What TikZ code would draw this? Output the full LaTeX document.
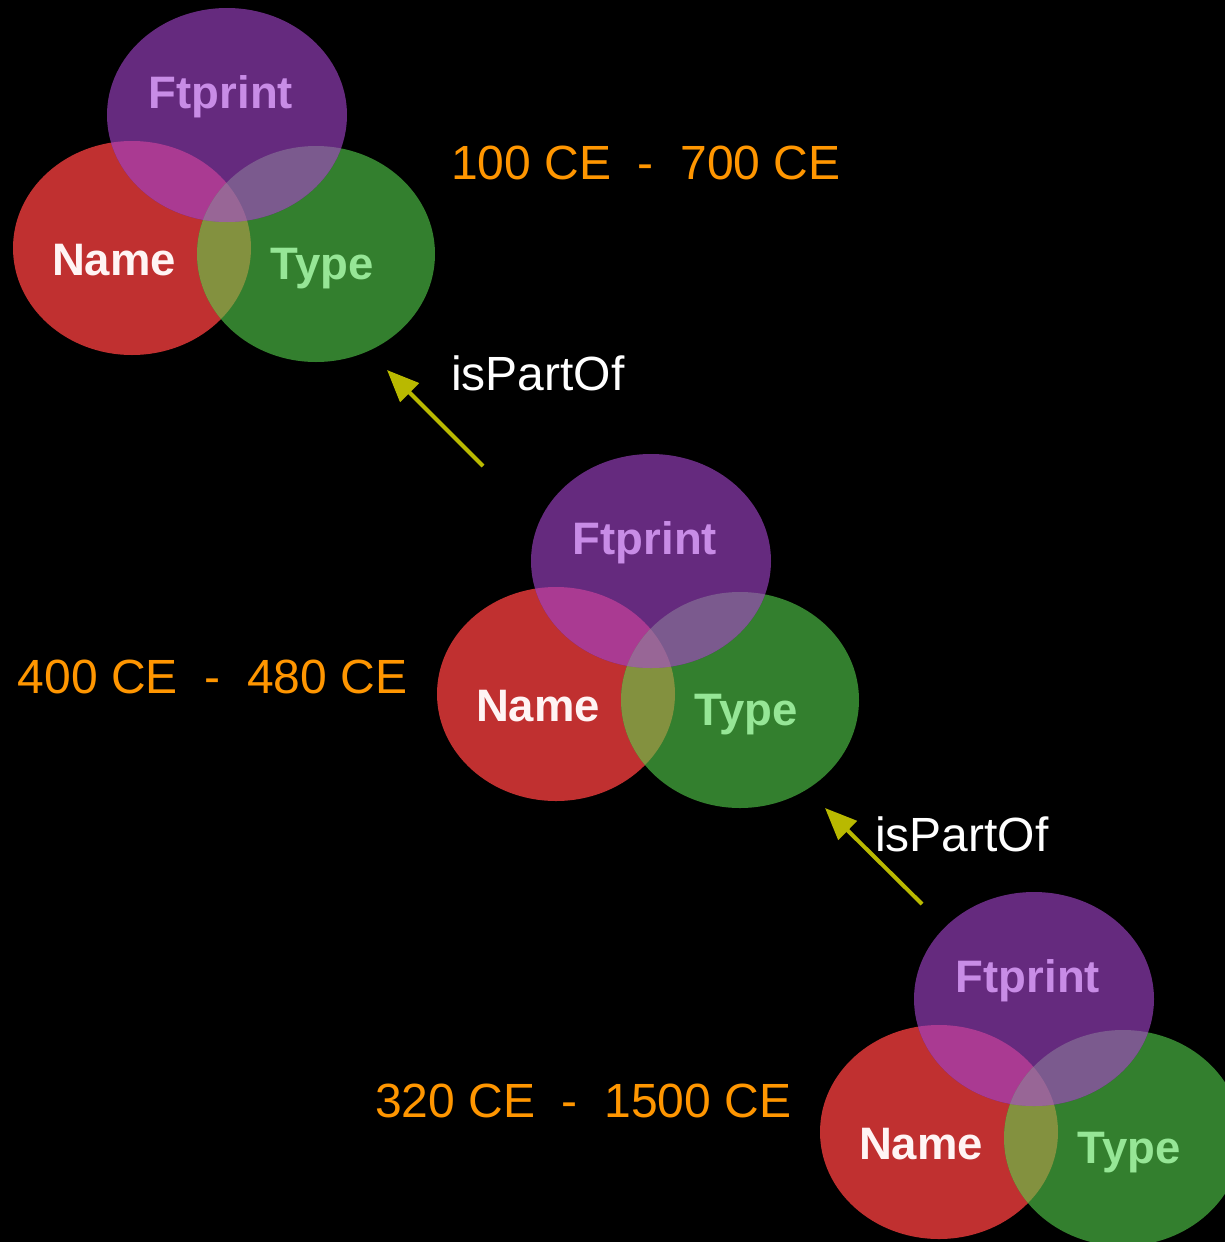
\documentclass[tikz,border=0pt]{standalone}
\usepackage{fontspec}
\setmainfont{Liberation Sans}
\usetikzlibrary{arrows.meta}
\definecolor{cR}{RGB}{192,48,48}
\definecolor{cG}{RGB}{51,127,46}
\definecolor{cP}{RGB}{101,42,126}
\definecolor{cRP}{RGB}{170,58,146}
\definecolor{cPG}{RGB}{123,90,142}
\definecolor{cRG}{RGB}{131,145,63}
\definecolor{cC}{RGB}{152,102,150}
\definecolor{tFt}{RGB}{200,140,230}
\definecolor{tNm}{RGB}{255,244,244}
\definecolor{tTy}{RGB}{150,230,150}
\definecolor{cDate}{RGB}{255,150,0}
\definecolor{cArrow}{RGB}{185,185,0}
\tikzset{
  vlabel/.style={anchor=base,inner sep=0pt,font=\fontsize{45.5}{45.5}\selectfont\bfseries},
  datelabel/.style={anchor=base west,inner sep=0pt,text=cDate,font=\fontsize{48}{48}\selectfont},
  rellabel/.style={anchor=base west,inner sep=0pt,text=white,font=\fontsize{48}{48}\selectfont},
  relarrow/.style={draw=cArrow,line width=4pt,-{Triangle[length=32pt,width=26pt]}},
  ellR/.style={x radius=119,y radius=107},
  ellG/.style={x radius=119,y radius=108},
  ellP/.style={x radius=120,y radius=107}
}
\newcommand\venndiag[3]{%
\begin{scope}[shift={(#1,#2)}]
  \fill[cR] (132,248) ellipse [ellR];
  \fill[cG] (316,254) ellipse [ellG];
  \fill[cP] (227,115) ellipse [ellP];
  \begin{scope}
    \clip (132,248) ellipse [ellR];
    \fill[cRP] (227,115) ellipse [ellP];
    \fill[cRG] (316,254) ellipse [ellG];
  \end{scope}
  \begin{scope}
    \clip (316,254) ellipse [ellG];
    \fill[cPG] (227,115) ellipse [ellP];
  \end{scope}
  \begin{scope}
    \clip (132,248) ellipse [ellR];
    \clip (316,254) ellipse [ellG];
    \fill[cC] (227,115) ellipse [ellP];
  \end{scope}
  \node[vlabel,text=tFt] (ft#3) at (221,108) {Ftprint};
  \node[vlabel,text=tNm] (nm#3) at (114,275) {Name};
  \node[vlabel,text=tTy] (ty#3) at (322,279) {Type};
\end{scope}}
\begin{document}
\begin{tikzpicture}[x=1pt,y=-1pt]
  \useasboundingbox (0,0) rectangle (1225,1242);
  \clip (0,0) rectangle (1225,1242);
  \fill[black] (0,0) rectangle (1225,1242);
  \venndiag{0}{0}{1}
  \venndiag{424}{446}{2}
  \venndiag{807}{884}{3}
  \node[datelabel] (d1) at (451,179) {100 CE~~-~~700 CE};
  \node[datelabel] (d2) at (17.5,693) {400 CE~~-~~480 CE};
  \node[datelabel] (d3) at (375,1117) {320 CE~~-~~1500 CE};
  \node[rellabel] (ip1) at (451,390) {isPartOf};
  \node[rellabel] (ip2) at (875,851) {isPartOf};
  \coordinate (a1s) at (483,466);
  \coordinate (a1e) at (387,370);
  \coordinate (a2s) at (922,904);
  \coordinate (a2e) at (825,808);
  \draw[relarrow] (a1s) -- (a1e);
  \draw[relarrow] (a2s) -- (a2e);
\end{tikzpicture}
\end{document}
